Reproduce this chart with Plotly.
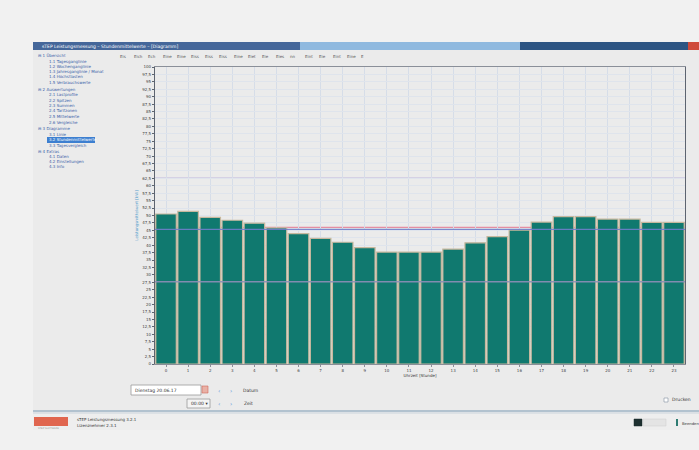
import plotly.graph_objects as go

# ---------------- data ----------------
hours = [str(h) for h in range(24)]
values = [50.5, 51.4, 49.4, 48.4, 47.4, 45.8, 43.9, 42.3, 41.0, 39.2, 37.7, 37.7,
          37.7, 38.7, 40.8, 42.9, 45.1, 47.8, 49.6, 49.6, 48.8, 48.8, 47.7, 47.7]
ref_levels = [62.5, 46.0, 45.3, 27.7]
ref_colors = ["#8a7cd0", "#e5849a", "#6f7fcb", "#8d8fb8"]
ref_layers = ["between", "between", "above", "above"]
tree_items = [
    (0, "1 Übersicht"), (1, "1.1 Tagesganglinie"), (1, "1.2 Wochenganglinie"),
    (1, "1.3 Jahresganglinie / Monat"), (1, "1.4 Höchstlasten"), (1, "1.5 Verbrauchswerte"),
    (0, "2 Auswertungen"), (1, "2.1 Lastprofile"), (1, "2.2 Spitzen"), (1, "2.3 Summen"),
    (1, "2.4 Tarifzonen"), (1, "2.5 Mittelwerte"), (1, "2.6 Vergleiche"),
    (0, "3 Diagramme"), (1, "3.1 Linie"), (1, "3.2 Stundenmittelwerte"), (1, "3.3 Tagesvergleich"),
    (0, "4 Extras"), (1, "4.1 Daten"), (1, "4.2 Einstellungen"), (1, "4.3 Info"),
]
toolbar_items = ["Eis", "Eich", "Ech", "Eine", "Eine", "Eiss", "Eiss", "Eiss", "Eine", "Eiet",
                 "Eie", "Eies", "nn", "Eint", "Eie", "Eint", "Eine", "E"]

W, H = 699, 450
L, R, T, B = 155, 685, 67, 364


def X(px):
    return (px - L) / (R - L)


def Y(py):
    return (B - py) / (B - T)


fig = go.Figure()
fig.add_trace(go.Bar(
    x=hours, y=values,
    marker=dict(color="#10796f", line=dict(color="#c7b89e", width=1.2)),
    width=0.93, hoverinfo="x+y",
))

shapes = []


def rect(x0, y0, x1, y1, fill, line=None, lw=0, layer="below"):
    shapes.append(dict(type="rect", xref="paper", yref="paper",
                       x0=X(x0), x1=X(x1), y0=Y(y1), y1=Y(y0),
                       fillcolor=fill, line=dict(color=line or fill, width=lw), layer=layer))


def hline(x0, x1, py, color, width=1):
    shapes.append(dict(type="line", xref="paper", yref="paper",
                       x0=X(x0), x1=X(x1), y0=Y(py), y1=Y(py),
                       line=dict(color=color, width=width), layer="below"))


# window
rect(33, 42, 699, 430, "#ebebeb")
# title bar
rect(33, 42, 300, 50, "#45679a")
rect(300, 42, 520, 50, "#8fb9df")
rect(520, 42, 688, 50, "#2d5583")
rect(688, 42, 699, 50, "#cf4a3b")
# status bar
rect(33, 412, 699, 430, "#eeeeee")
hline(33, 699, 411, "#9fb4c6", 1.5)
hline(33, 699, 413, "#c9d3dc", 1)
rect(34, 417, 68, 426, "#e0664f")
# bottom controls
rect(131, 385, 201, 395, "#ffffff", "#9a9a9a", 0.8)
rect(187, 399, 210, 408, "#f4f4f4", "#9a9a9a", 0.8)
rect(202, 386, 208, 393, "#e9b1a6", "#d06a5c", 0.6)
rect(664, 398, 668, 402, "#ffffff", "#7f8fa0", 0.6)
rect(634, 419, 642, 426, "#1d2f2f", "#1d2f2f", 0.5)
rect(643, 419, 666, 426, "#e4e4e4", "#cfcfcf", 0.5)
rect(676, 419, 678, 426, "#2e7c72")
# tree highlight
rect(47, 137, 95, 143, "#3d7fd0")

# reference lines
for lvl, col, lay in zip(ref_levels, ref_colors, ref_layers):
    shapes.append(dict(type="line", xref="paper", yref="y", x0=0, x1=1, y0=lvl, y1=lvl,
                       line=dict(color=col, width=1.3), layer=lay, opacity=0.9))

annotations = []


def text(px, py, s, size=4.5, color="#333333", anchor="left", angle=0):
    annotations.append(dict(x=X(px), y=Y(py), xref="paper", yref="paper", text=s,
                            showarrow=False, xanchor=anchor, yanchor="middle",
                            font=dict(size=size, color=color, family="DejaVu Sans"),
                            textangle=angle))


text(40, 46, "sTEP Leistungsmessung – Stundenmittelwerte – [Diagramm]", 4.5, "#ffffff")
for i, item in enumerate(toolbar_items):
    text(118 + i * 14.2, 56, item, 4, "#555555")
tree_y = [55.3, 61.3, 66.7, 71.7, 77, 82.3, 89.7, 94.7, 100, 105.3, 110.7, 116, 122,
          128.7, 134, 139.7, 145.3, 151.3, 156.3, 161.3, 166.3]
for (lvl, s), ty in zip(tree_items, tree_y):
    col = "#ffffff" if ty == 139.7 else "#3a5fa8"
    text(36 + lvl * 11, ty, ("⊟ " if lvl == 0 else "") + s, 4, col)

text(133, 390, "Dienstag 20.06.17", 4.5, "#333333")
text(216, 390, "‹", 6, "#4a8fd8")
text(228, 390, "›", 6, "#4a8fd8")
text(241, 390, "Datum", 4.5, "#333333")
text(189, 403.5, "00:00 ▾", 4.5, "#333333")
text(216, 403.5, "‹", 6, "#4a8fd8")
text(228, 403.5, "›", 6, "#4a8fd8")
text(242, 403.5, "Zeit", 4.5, "#333333")
text(670, 400, "Drucken", 4.5, "#333333")
text(680, 423, "Beenden", 3.8, "#333333")
text(75, 419, "sTEP Leistungsmessung 3.2.1", 4, "#333333")
text(75, 425.5, "Lizenznehmer 2.3.1", 4, "#333333")
text(36, 428.5, "STEP SOFTWARE", 2.5, "#999999")

fig.update_layout(
    width=W, height=H,
    margin=dict(l=L, r=W - R, t=T, b=H - B),
    paper_bgcolor="#f1f1f1",
    plot_bgcolor="#f6f5f7",
    separators=",.",
    showlegend=False,
    bargap=0.07,
    shapes=shapes,
    annotations=annotations,
    font=dict(family="DejaVu Sans", size=4, color="#444444"),
    xaxis=dict(
        type="category", showgrid=True, gridcolor="#d6dde8", gridwidth=1,
        showline=True, linecolor="#8a8f99", mirror=True, linewidth=1,
        ticks="outside", ticklen=2, tickcolor="#8a8f99",
        tickfont=dict(size=4, color="#444444"),
        title=dict(text="Uhrzeit [Stunde]", font=dict(size=4, color="#333333"), standoff=2),
    ),
    yaxis=dict(
        range=[0, 100], dtick=2.5, tick0=0,
        showgrid=True, gridcolor="#dfe4ec", gridwidth=1,
        showline=True, linecolor="#5d6470", mirror=True, linewidth=1.2,
        ticks="outside", ticklen=2, tickcolor="#5d6470",
        tickfont=dict(size=4, color="#444444"),
        zeroline=False,
        title=dict(text="Leistungsmittelwert [kW]", font=dict(size=4, color="#5aa0cc"), standoff=3),
    ),
)

fig.write_html(
    "out.html",
    config={"displayModeBar": False},
    post_script="document.body.style.margin='0';document.body.style.background='#f1f1f1';",
)
